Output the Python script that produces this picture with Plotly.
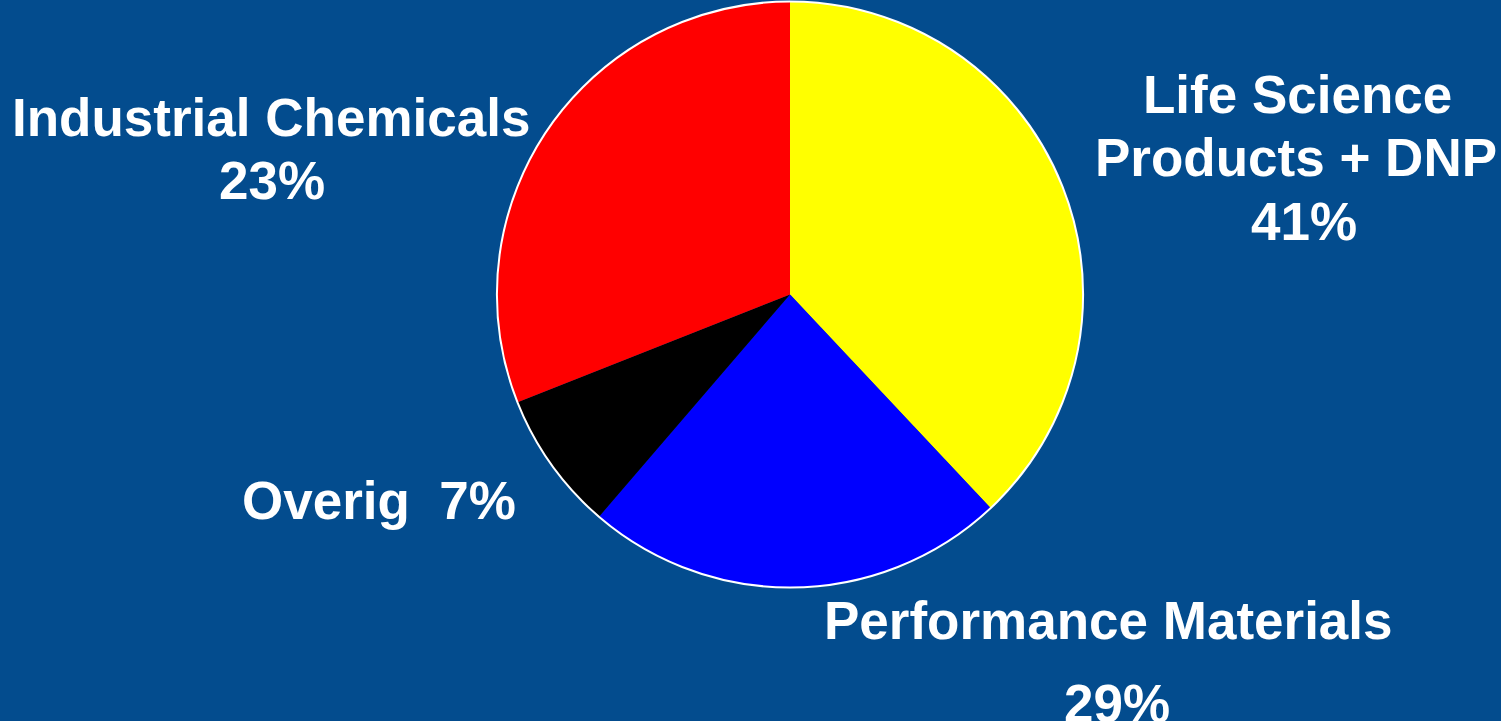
import plotly.graph_objects as go

# Slice shares as drawn in the picture (clockwise from 12 o'clock)
segments = ["Life Science Products + DNP", "Performance Materials", "Overig", "Industrial Chemicals"]
shares = [38.0, 23.3, 7.7, 31.0]
colors = ["#FFFF00", "#0000FF", "#000000", "#FF0000"]

# Label texts (lines) as printed on the chart
label_lines = [
    "Industrial Chemicals", "23%",
    "Life Science", "Products + DNP", "41%",
    "Overig\u00a0\u00a07%",
    "Performance Materials", "29%",
]

W, H = 1501, 721
BG = "#034C8E"

cx, cy, r = 790, 294.5, 293
dom_x = [(cx - r) / W, (cx + r) / W]
dom_y = [(H - cy - r) / H, (H - cy + r) / H]

fig = go.Figure()
fig.add_trace(go.Pie(
    labels=segments, values=shares, sort=False, direction="clockwise", rotation=0,
    marker=dict(colors=colors, line=dict(width=0)),
    textinfo="none", hoverinfo="label+percent", showlegend=False,
    domain=dict(x=dom_x, y=dom_y),
))
# White rim around the whole pie
fig.add_trace(go.Pie(
    labels=["rim"], values=[1], sort=False,
    marker=dict(colors=["rgba(0,0,0,0)"], line=dict(color="white", width=2)),
    textinfo="none", hoverinfo="skip", showlegend=False,
    domain=dict(x=dom_x, y=dom_y),
))

# label positions (centre x, vertical mid of capitals) in pixels
label_pos = [(271, 117), (272, 180), (1297, 94), (1296, 157), (1304, 222),
             (379, 500), (1108, 620), (1117, 703)]
for txt, (px, py) in zip(label_lines, label_pos):
    fig.add_annotation(
        text="<b>" + txt + "</b>", x=px / W, y=(H - py) / H, xref="paper", yref="paper",
        xanchor="center", yanchor="middle", showarrow=False,
        font=dict(family="Liberation Sans, Arial, sans-serif", size=53, color="white"),
    )

fig.update_layout(
    width=W, height=H, margin=dict(l=0, r=0, t=0, b=0),
    paper_bgcolor=BG, plot_bgcolor=BG,
)
fig.write_html(
    "out.html",
    config={"displayModeBar": False},
    post_script="document.body.style.margin='0';document.body.style.overflow='hidden';"
                "document.body.style.background='" + BG + "';",
)
